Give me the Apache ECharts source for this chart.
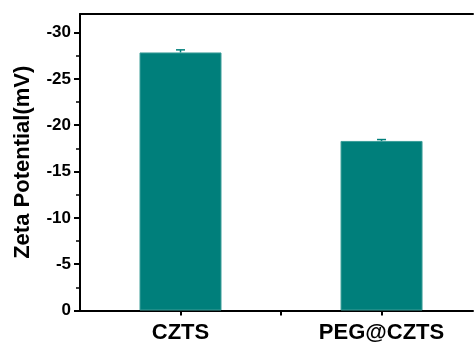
<!DOCTYPE html>
<html>
<head>
<meta charset="utf-8">
<script src="https://cdn.jsdelivr.net/npm/echarts@6/dist/echarts.min.js"></script>
<style>
html,body{margin:0;padding:0;background:#fff;overflow:hidden;}
#c{width:475px;height:344px;}
</style>
</head>
<body>
<div id="c"></div>
<script>
// ---- data ----
var categories = ['CZTS', 'PEG@CZTS'];
var categoryPos = [1, 2];
var zetaValues = [-27.85, -18.3];
var zetaErrors = [0.28, 0.15];
var yTicks = [0, -5, -10, -15, -20, -25, -30];
var yMinorTicks = [-2.5, -7.5, -12.5, -17.5, -22.5, -27.5];
var xTicks = [1, 1.5, 2];

var FONT = '"Liberation Sans", Arial, Helvetica, sans-serif';
var teal = '#007f7b';

var barData = categoryPos.map(function (x, i) { return [x, zetaValues[i]]; });
var errData = categoryPos.map(function (x, i) { return [x, zetaValues[i], zetaErrors[i]]; });

var chart = echarts.init(document.getElementById('c'), null, {renderer: 'canvas'});
chart.setOption({
  animation: false,
  backgroundColor: '#fff',
  grid: {show: false, left: 80, top: 14, right: 2, bottom: 33.5, containLabel: false},
  xAxis: [{
    type: 'value', min: 0.5, max: 2.455, position: 'bottom',
    splitLine: {show: false},
    axisLine: {show: true, lineStyle: {color: '#000', width: 2}},
    axisTick: {show: true, inside: false, length: 5, customValues: xTicks, lineStyle: {color: '#000', width: 2}},
    axisLabel: {
      customValues: categoryPos, margin: 11,
      color: '#000', fontFamily: FONT, fontWeight: 'bold', fontSize: 22,
      formatter: function (v) { var i = categoryPos.indexOf(v); return i >= 0 ? categories[i] : ''; }
    }
  }, {
    type: 'value', min: 0.5, max: 2.455, position: 'top',
    splitLine: {show: false},
    axisLine: {show: true, onZero: false, lineStyle: {color: '#000', width: 2}},
    axisTick: {show: false}, axisLabel: {show: false}
  }],
  yAxis: [{
    type: 'value', inverse: true, min: -32, max: 0, position: 'left',
    name: 'Zeta Potential(mV)', nameLocation: 'middle', nameRotate: 90, nameGap: 46,
    nameTextStyle: {color: '#000', fontFamily: FONT, fontWeight: 'bold', fontSize: 22},
    splitLine: {show: false},
    axisLine: {show: true, onZero: false, lineStyle: {color: '#000', width: 2}},
    axisTick: {show: true, inside: false, length: 6, customValues: yTicks, lineStyle: {color: '#000', width: 2}},
    axisLabel: {customValues: yTicks, margin: 9, color: '#000', fontFamily: FONT, fontWeight: 'bold', fontSize: 17}
  }, {
    type: 'value', inverse: true, min: -32, max: 0, position: 'left', offset: 0,
    splitLine: {show: false},
    axisLine: {show: false, onZero: false},
    axisTick: {show: true, inside: false, length: 4, customValues: yMinorTicks, lineStyle: {color: '#000', width: 1.5}},
    axisLabel: {show: false}
  }],
  series: [{
    type: 'bar', xAxisIndex: 0, yAxisIndex: 0, data: barData, barWidth: 82,
    itemStyle: {color: teal, borderColor: '#3c9e99', borderWidth: 1}
  }, {
    type: 'custom', xAxisIndex: 0, yAxisIndex: 0, data: errData, z: 3,
    renderItem: function (params, api) {
      var x = api.value(0), v = api.value(1), e = api.value(2);
      var p0 = api.coord([x, v]);
      var p1 = api.coord([x, v - e]);
      var half = 4.5;
      return {type: 'group', children: [
        {type: 'line', shape: {x1: p0[0], y1: p0[1], x2: p1[0], y2: p1[1]}, style: {stroke: teal, lineWidth: 1.5}},
        {type: 'line', shape: {x1: p1[0] - half, y1: p1[1], x2: p1[0] + half, y2: p1[1]}, style: {stroke: teal, lineWidth: 1.5}}
      ]};
    }
  }]
});
</script>
</body>
</html>
